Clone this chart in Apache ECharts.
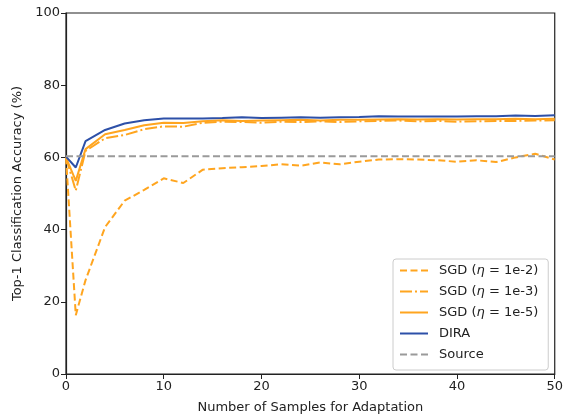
<!DOCTYPE html>
<html>
<head>
<meta charset="utf-8">
<script src="https://cdn.jsdelivr.net/npm/echarts@6/dist/echarts.min.js"></script>
<style>
  html, body { margin: 0; padding: 0; background: #fff; }
  #chart { width: 566px; height: 419px; }
</style>
</head>
<body>
<div id="chart"></div>
<script>
// samples used for adaptation
var samples = [0, 1, 2, 4, 6, 8, 10, 12, 14, 16, 18, 20, 22, 24, 26, 28, 30, 32, 34, 36, 38, 40, 42, 44, 46, 48, 50];

var sgd1e2 = [60.0, 16.3, 26.0, 40.7, 48.0, 51.0, 54.2, 52.9, 56.6, 57.0, 57.3, 57.6, 58.1, 57.7, 58.6, 58.1, 58.8, 59.4, 59.5, 59.4, 59.2, 58.8, 59.2, 58.7, 60.0, 61.0, 59.4];
var sgd1e3 = [60.0, 50.8, 61.8, 65.3, 66.2, 67.8, 68.6, 68.5, 69.6, 69.9, 69.8, 69.6, 69.9, 69.8, 70.0, 69.8, 70.0, 70.1, 70.2, 70.0, 70.1, 69.9, 70.0, 70.1, 70.1, 70.2, 70.3];
var sgd1e5 = [60.0, 53.5, 62.3, 66.4, 67.6, 68.9, 69.6, 69.5, 70.0, 70.3, 70.1, 70.2, 70.3, 70.4, 70.2, 70.4, 70.4, 70.5, 70.6, 70.5, 70.6, 70.5, 70.6, 70.6, 70.7, 70.6, 70.7];
var dira   = [60.2, 57.2, 64.5, 67.6, 69.4, 70.3, 70.8, 70.8, 70.8, 70.9, 71.1, 70.9, 71.0, 71.1, 71.0, 71.1, 71.2, 71.4, 71.3, 71.3, 71.3, 71.3, 71.4, 71.4, 71.6, 71.5, 71.7];
var sourceX = [0, 50];
var sourceVals = [60.3, 60.3];

var seriesNames = ['SGD (η = 1e-2)', 'SGD (η = 1e-3)', 'SGD (η = 1e-5)', 'DIRA', 'Source'];

var pairs = function(xs, ys) {
    return xs.map(function(x, i) { return [x, ys[i]]; });
};

var font = 'DejaVu Sans';
var orange = '#ffa51f';

var mkLine = function(name, data, color, type) {
    return {
        name: name,
        type: 'line',
        data: data,
        symbol: 'none',
        animation: false,
        lineStyle: { color: color, width: 2, type: type },
        itemStyle: { color: color }
    };
};

var myChart = echarts.init(document.getElementById('chart'));
var option = {
    backgroundColor: '#fff',
    textStyle: { fontFamily: font },
    grid: {
        left: 66, right: 10, top: 13, bottom: 43,
        show: true, borderColor: '#222', borderWidth: 1.2, backgroundColor: 'transparent'
    },
    legend: {
        orient: 'vertical',
        left: 393, top: 259,
        padding: [5, 10, 9, 6],
        itemWidth: 28, itemHeight: 14, itemGap: 8,
        borderColor: '#cccccc', borderWidth: 1, borderRadius: 3,
        backgroundColor: '#fff',
        itemStyle: { opacity: 0 },
        data: seriesNames,
        formatter: function(n) {
            return n.replace('η', '{i|η}');
        },
        textStyle: {
            fontFamily: font, fontSize: 13, color: '#222', padding: [0, 0, 0, 6],
            rich: { i: { fontFamily: font, fontStyle: 'italic', fontSize: 13, color: '#222' } }
        }
    },
    xAxis: {
        type: 'value', min: 0, max: 50, interval: 10,
        name: 'Number of Samples for Adaptation',
        nameLocation: 'middle', nameGap: 27,
        nameTextStyle: { fontFamily: font, fontSize: 13, color: '#222' },
        axisLine: { show: true, onZero: false, lineStyle: { color: '#222', width: 1.2 } },
        axisTick: { show: true, inside: false, length: 5, lineStyle: { color: '#222' } },
        axisLabel: { fontFamily: font, fontSize: 13, color: '#222', margin: 6 },
        splitLine: { show: false }
    },
    yAxis: {
        type: 'value', min: 0, max: 100, interval: 20,
        name: 'Top-1 Classification Accuracy (%)',
        nameLocation: 'middle', nameGap: 42,
        nameTextStyle: { fontFamily: font, fontSize: 13, color: '#222' },
        axisLine: { show: true, onZero: false, lineStyle: { color: '#222', width: 1.2 } },
        axisTick: { show: true, inside: false, length: 5, lineStyle: { color: '#222' } },
        axisLabel: { fontFamily: font, fontSize: 13, color: '#222', margin: 6 },
        splitLine: { show: false }
    },
    series: [
        mkLine(seriesNames[0], pairs(samples, sgd1e2), orange, [7, 3.5]),
        mkLine(seriesNames[1], pairs(samples, sgd1e3), orange, [12, 3, 2, 3]),
        mkLine(seriesNames[2], pairs(samples, sgd1e5), orange, 'solid'),
        mkLine(seriesNames[3], pairs(samples, dira), '#2d50a8', 'solid'),
        mkLine(seriesNames[4], pairs(sourceX, sourceVals), '#9a9a9a', [7, 3.5])
    ]
};

myChart.setOption(option);
</script>
</body>
</html>
